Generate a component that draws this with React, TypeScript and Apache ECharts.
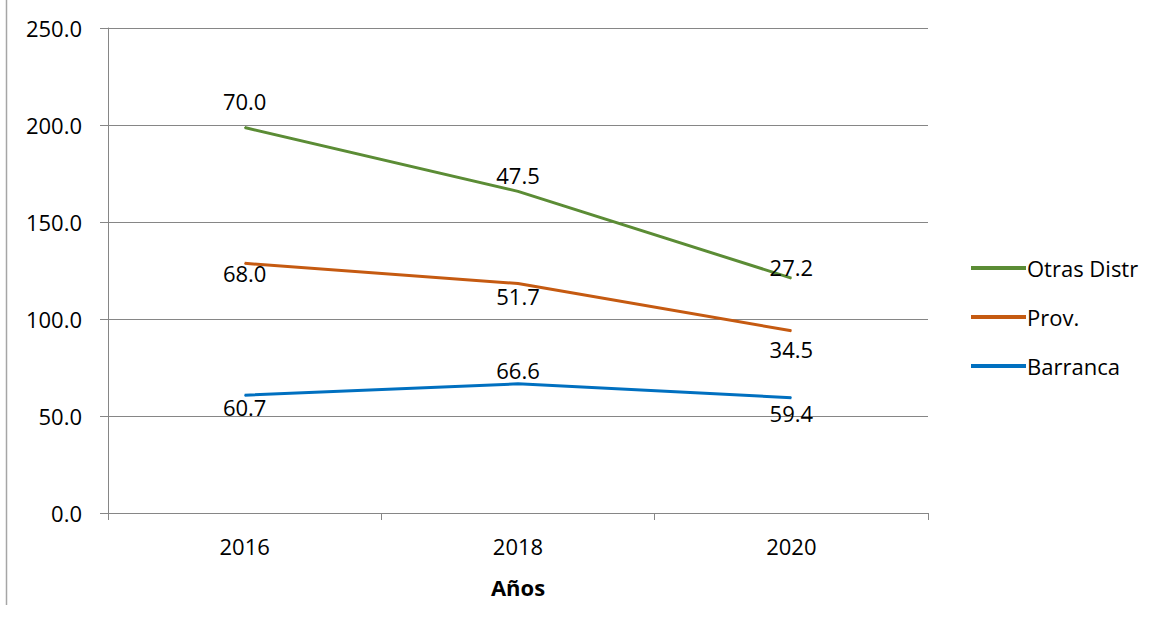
import React, { useEffect, useRef } from "react";
import * as echarts from "echarts";

const categories = ["2016", "2018", "2020"];
const barranca = [60.7, 66.6, 59.4];
const prov = [68.0, 51.7, 34.5];
const otras = [70.0, 47.5, 27.2];
const yTicks = [0, 50, 100, 150, 200, 250];

const FONT = "'Open Sans', 'Liberation Sans', sans-serif";
const FS = 22;

function withLabelOffsets(values: number[], offsets: number[][]) {
  return values.map((v, i) => ({ value: v, label: { offset: offsets[i] } }));
}

export default function App() {
  const ref = useRef<HTMLDivElement>(null);
  useEffect(() => {
    if (!ref.current) return;
    const chart = echarts.init(ref.current, null, { renderer: "svg" });
    const labelBase = {
      show: true,
      color: "#000",
      fontSize: FS,
      fontFamily: FONT,
      formatter: (p: any) => Number(p.value).toFixed(1),
    };
    chart.setOption({
      animation: false,
      backgroundColor: "#fff",
      textStyle: { fontFamily: FONT },
      grid: { left: 108, right: 231, top: 28, bottom: 115, containLabel: false },
      graphic: [
        {
          type: "line",
          shape: { x1: 6.5, y1: 0, x2: 6.5, y2: 605 },
          style: { stroke: "#a6a6a6", lineWidth: 1.5 },
        },
      ],
      legend: {
        orient: "vertical",
        left: 966,
        top: 252,
        itemGap: 27,
        itemWidth: 55,
        itemHeight: 4,
        icon: "rect",
        textStyle: { fontSize: FS, color: "#000", fontFamily: FONT, padding: [0, 0, 0, -4] },
        data: ["Otras Distr", "Prov.", "Barranca"],
      },
      xAxis: {
        type: "category",
        data: categories,
        boundaryGap: true,
        name: "Años",
        nameLocation: "middle",
        nameGap: 63,
        nameTextStyle: { fontSize: FS, fontWeight: "bold", color: "#000", fontFamily: FONT },
        axisLine: { lineStyle: { color: "#868686", width: 1 } },
        axisTick: { show: true, length: 7, lineStyle: { color: "#868686" } },
        axisLabel: { fontSize: FS, color: "#000", margin: 22, fontFamily: FONT },
        splitLine: { show: false },
      },
      yAxis: {
        type: "value",
        min: 0,
        max: 250,
        interval: 50,
        axisLine: { show: true, lineStyle: { color: "#868686", width: 1 } },
        axisTick: { show: true, length: 8, lineStyle: { color: "#868686" } },
        axisLabel: {
          fontSize: FS,
          color: "#000",
          margin: 26,
          fontFamily: FONT,
          formatter: (v: number) => (yTicks.includes(v) ? v.toFixed(1) : ""),
        },
        splitLine: { show: true, lineStyle: { color: "#868686", width: 1 } },
      },
      series: [
        {
          name: "Barranca",
          type: "line",
          stack: "total",
          data: withLabelOffsets(barranca, [[0, 0], [0, -25], [0, 4]]),
          symbol: "circle",
          symbolSize: 1,
          showSymbol: true,
          lineStyle: { color: "#0070c0", width: 3 },
          itemStyle: { color: "#0070c0" },
          label: { ...labelBase, position: "bottom", distance: 0 },
        },
        {
          name: "Prov.",
          type: "line",
          stack: "total",
          data: withLabelOffsets(prov, [[0, -2], [0, 1], [0, 7]]),
          symbol: "circle",
          symbolSize: 1,
          showSymbol: true,
          lineStyle: { color: "#c55a11", width: 3 },
          itemStyle: { color: "#c55a11" },
          label: { ...labelBase, position: "bottom", distance: 0 },
        },
        {
          name: "Otras Distr",
          type: "line",
          stack: "total",
          data: withLabelOffsets(otras, [[0, -10], [0, 0], [0, 5]]),
          symbol: "circle",
          symbolSize: 1,
          showSymbol: true,
          lineStyle: { color: "#5b8c35", width: 3 },
          itemStyle: { color: "#5b8c35" },
          label: { ...labelBase, position: "top", distance: 5 },
        },
      ],
    });
    return () => chart.dispose();
  }, []);
  return (
    <div
      ref={ref}
      style={{ position: "fixed", left: 0, top: 0, width: 1159, height: 628 }}
    />
  );
}
